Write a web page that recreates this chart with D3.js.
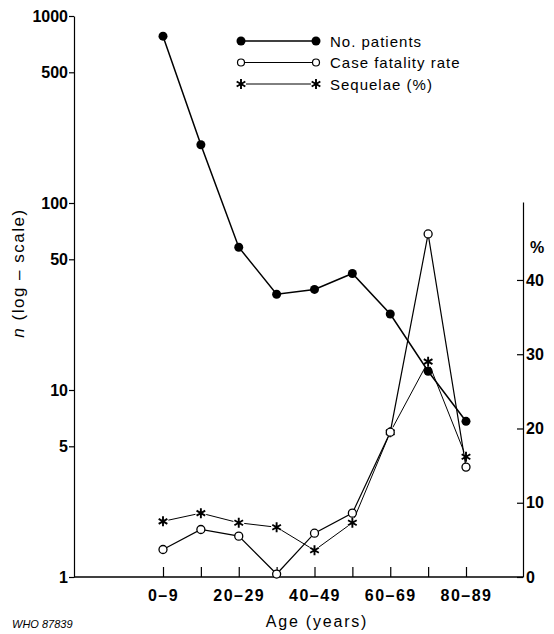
<!DOCTYPE html>
<html><head><meta charset="utf-8">
<script src="https://cdn.jsdelivr.net/npm/d3@7"></script>
<style>
html,body{margin:0;padding:0;background:#fff;}
svg{display:block;font-family:"Liberation Sans",Arial,Helvetica,sans-serif;}
</style></head>
<body>
<svg id="chart" width="554" height="634"></svg>
<script>
// ---- data ----
const ageGroups = ["0–9","10–19","20–29","30–39","40–49","50–59","60–69","70–79","80–89"];
const patients  = [780, 205, 58, 32.5, 34.5, 42, 25.5, 12.6, 6.8];
const fatality  = [3.7, 6.4, 5.5, 0.4, 5.9, 8.6, 19.5, 46.2, 14.8];
const sequelae  = [7.5, 8.6, 7.3, 6.7, 3.6, 7.3, 19.5, 29.0, 16.2];
const leftTicks  = [1, 5, 10, 50, 100, 500, 1000];
const rightTicks = [0, 10, 20, 30, 40];
const legendLabels = ["No. patients", "Case fatality rate", "Sequelae (%)"];

// ---- layout ----
const svg = d3.select("#chart");
const xLeft = 74, xRight = 523, yBase = 577;
const x = d3.scalePoint().domain(ageGroups).range([163, 466]);
const yL = d3.scaleLog().domain([1, 1000]).range([yBase, 16]);
const yR = d3.scaleLinear().domain([0, 50.5]).range([yBase, 202]);

const tickFont = "bold 16px 'Liberation Sans', Arial, sans-serif";

// Left axis
const gL = svg.append("g").attr("transform", `translate(${xLeft},0)`)
  .call(d3.axisLeft(yL).tickValues(leftTicks).tickFormat(d3.format("d")).tickSize(5).tickPadding(1).tickSizeOuter(0));
gL.select(".domain").attr("stroke-width", 1.2);
gL.selectAll(".tick line").attr("stroke-width", 1.2);
gL.selectAll("text").style("font", tickFont).attr("fill", "#000");

// Right axis
const gR = svg.append("g").attr("transform", `translate(${xRight},0)`)
  .call(d3.axisRight(yR).tickValues(rightTicks).tickSize(-6).tickPadding(3).tickSizeOuter(0));
gR.select(".domain").attr("stroke-width", 1.2);
gR.selectAll(".tick line").attr("stroke-width", 1.2);
gR.selectAll("text").style("font", tickFont).attr("fill", "#000");

// Bottom axis
svg.append("line").attr("x1", xLeft).attr("x2", xRight).attr("y1", yBase).attr("y2", yBase)
  .attr("stroke", "#000").attr("stroke-width", 1.5);
const gB = svg.append("g").attr("transform", `translate(0,${yBase})`)
  .call(d3.axisBottom(x).tickSize(-10).tickPadding(13).tickSizeOuter(0)
    .tickFormat((d, i) => i % 2 === 0 ? d : ""));
gB.select(".domain").remove();
gB.selectAll(".tick line").attr("stroke-width", 1.2);
gB.selectAll("text").style("font", tickFont).style("letter-spacing", "1.5px").attr("fill", "#000");

// Axis titles
svg.append("text").attr("transform", "translate(24,273) rotate(-90)")
  .attr("text-anchor", "middle").style("font-size", "17px").style("letter-spacing", "1.5px")
  .call(t => {
    t.append("tspan").style("font-style", "italic").text("n");
    t.append("tspan").text(" (log – scale)");
  });
svg.append("text").attr("x", 317).attr("y", 627).attr("text-anchor", "middle")
  .style("font-size", "16px").style("letter-spacing", "1.8px").text("Age (years)");
svg.append("text").attr("x", 537).attr("y", 253).attr("text-anchor", "middle")
  .style("font", tickFont).text("%");
svg.append("text").attr("x", 12).attr("y", 628)
  .style("font-size", "11px").style("font-style", "italic").text("WHO 87839");

// ---- series ----
const asterisk = d3.symbol(d3.symbolAsterisk, 70);

// Sequelae: thin line with gaps around markers
const seqPts = ageGroups.map((g, i) => [x(g), yR(sequelae[i])]);
const gap = 5.5;
const segs = d3.pairs(seqPts).map(([a, b]) => {
  const dx = b[0] - a[0], dy = b[1] - a[1], L = Math.hypot(dx, dy);
  return [[a[0] + dx * gap / L, a[1] + dy * gap / L], [b[0] - dx * gap / L, b[1] - dy * gap / L]];
});
svg.append("g").selectAll("line").data(segs).join("line")
  .attr("x1", d => d[0][0]).attr("y1", d => d[0][1]).attr("x2", d => d[1][0]).attr("y2", d => d[1][1])
  .attr("stroke", "#000").attr("stroke-width", 1);
svg.append("g").selectAll("path").data(seqPts).join("path")
  .attr("transform", d => `translate(${d[0]},${d[1]})`).attr("d", asterisk)
  .attr("fill", "none").attr("stroke", "#000").attr("stroke-width", 1.9);

// Case fatality rate
const lineR = d3.line().x((d, i) => x(ageGroups[i])).y(d => yR(d));
svg.append("path").datum(fatality).attr("d", lineR)
  .attr("fill", "none").attr("stroke", "#000").attr("stroke-width", 1.2);
svg.append("g").selectAll("circle").data(fatality).join("circle")
  .attr("cx", (d, i) => x(ageGroups[i])).attr("cy", d => yR(d)).attr("r", 4)
  .attr("fill", "#fff").attr("stroke", "#000").attr("stroke-width", 1.3);

// Number of patients
const lineL = d3.line().x((d, i) => x(ageGroups[i])).y(d => yL(d));
svg.append("path").datum(patients).attr("d", lineL)
  .attr("fill", "none").attr("stroke", "#000").attr("stroke-width", 1.5);
svg.append("g").selectAll("circle").data(patients).join("circle")
  .attr("cx", (d, i) => x(ageGroups[i])).attr("cy", d => yL(d)).attr("r", 4.5)
  .attr("fill", "#000");

// ---- legend ----
const legY = [41, 62.5, 84];
const lx1 = 241, lx2 = 316, ltx = 330;
const leg = svg.append("g");
legendLabels.forEach((lab, i) => {
  const y = legY[i];
  const lw = [1.5, 1, 1][i];
  const inset = i === 2 ? 5 : 0;
  leg.append("line").attr("x1", lx1 + inset).attr("x2", lx2 - inset).attr("y1", y).attr("y2", y)
    .attr("stroke", "#000").attr("stroke-width", lw);
  [lx1, lx2].forEach(px => {
    if (i === 0) leg.append("circle").attr("cx", px).attr("cy", y).attr("r", 4.5).attr("fill", "#000");
    else if (i === 1) leg.append("circle").attr("cx", px).attr("cy", y).attr("r", 3.5)
      .attr("fill", "#fff").attr("stroke", "#000").attr("stroke-width", 1.2);
    else leg.append("path").attr("transform", `translate(${px},${y})`).attr("d", asterisk)
      .attr("fill", "none").attr("stroke", "#000").attr("stroke-width", 1.9);
  });
  leg.append("text").attr("x", ltx).attr("y", y + 5.5)
    .style("font-size", "15px").style("letter-spacing", "1px").text(lab);
});
</script>
</body></html>
